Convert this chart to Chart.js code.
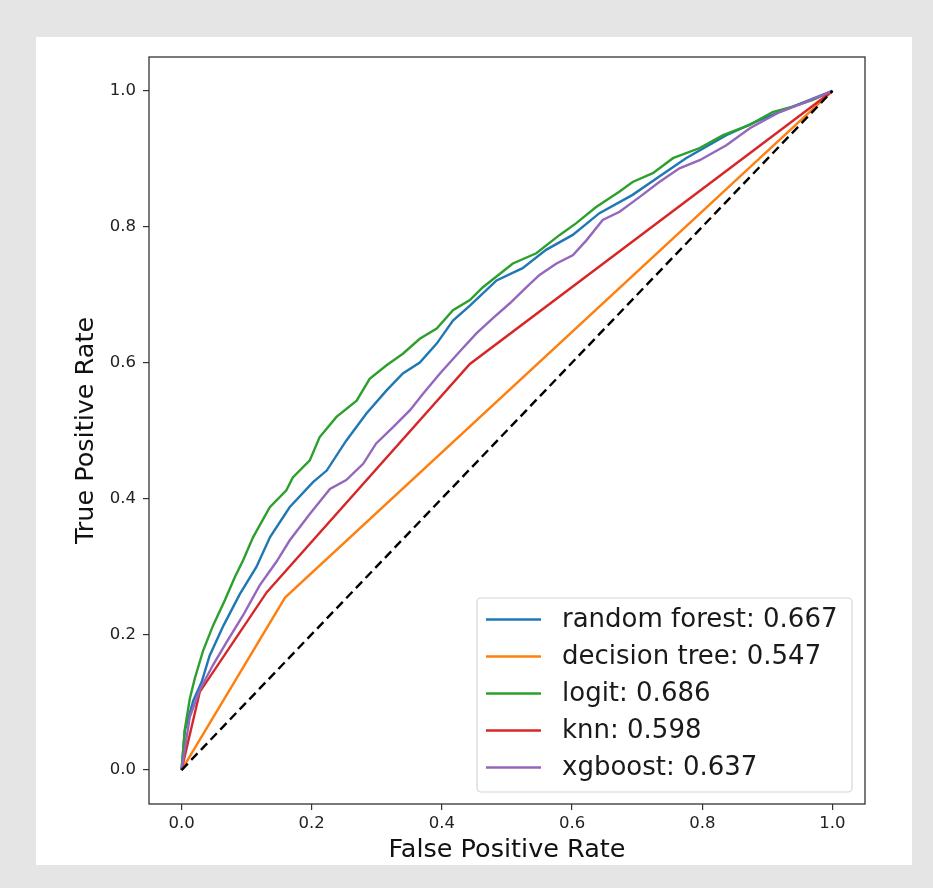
<!DOCTYPE html>
<html>
<head>
<meta charset="utf-8">
<script src="https://cdn.jsdelivr.net/npm/chart.js@4/dist/chart.umd.min.js"></script>
<style>
  html, body { margin: 0; padding: 0; background: #e5e5e5; }
  canvas { display: block; }
</style>
</head>
<body>
<canvas id="c" width="933" height="888"></canvas>
<script>
// ---- data ----
const rfFpr = [0, 0.005, 0.018, 0.031, 0.043, 0.064, 0.0895, 0.115, 0.136, 0.166, 0.202, 0.223, 0.253, 0.284, 0.315, 0.340, 0.366, 0.392, 0.417, 0.443, 0.484, 0.524, 0.560, 0.601, 0.642, 0.693, 0.734, 0.775, 0.837, 0.888, 0.939, 1];
const rfTpr = [0, 0.058, 0.102, 0.130, 0.168, 0.212, 0.259, 0.299, 0.343, 0.387, 0.424, 0.441, 0.485, 0.525, 0.559, 0.584, 0.600, 0.628, 0.662, 0.684, 0.721, 0.739, 0.766, 0.788, 0.820, 0.847, 0.874, 0.901, 0.935, 0.957, 0.977, 1];

const dtFpr = [0, 0.159, 1];
const dtTpr = [0, 0.254, 1];

const lgFpr = [0, 0.005, 0.0127, 0.0204, 0.0332, 0.0485, 0.0665, 0.0818, 0.0946, 0.110, 0.1356, 0.161, 0.171, 0.197, 0.212, 0.238, 0.269, 0.289, 0.315, 0.340, 0.366, 0.392, 0.417, 0.443, 0.463, 0.509, 0.545, 0.581, 0.606, 0.637, 0.673, 0.693, 0.724, 0.755, 0.796, 0.832, 0.873, 0.908, 0.939, 0.970, 1];
const lgTpr = [0, 0.060, 0.105, 0.135, 0.176, 0.213, 0.250, 0.284, 0.309, 0.343, 0.387, 0.412, 0.431, 0.456, 0.490, 0.520, 0.544, 0.576, 0.596, 0.613, 0.635, 0.650, 0.677, 0.692, 0.711, 0.746, 0.761, 0.788, 0.805, 0.829, 0.852, 0.866, 0.879, 0.901, 0.916, 0.935, 0.950, 0.969, 0.977, 0.987, 1];

const knnFpr = [0, 0.028, 0.131, 0.443, 1];
const knnTpr = [0, 0.115, 0.262, 0.598, 1];

const xgFpr = [0, 0.0127, 0.028, 0.0485, 0.069, 0.0946, 0.120, 0.146, 0.166, 0.197, 0.228, 0.253, 0.279, 0.299, 0.325, 0.351, 0.371, 0.397, 0.427, 0.453, 0.478, 0.504, 0.530, 0.550, 0.576, 0.601, 0.622, 0.647, 0.673, 0.704, 0.734, 0.765, 0.796, 0.837, 0.873, 0.919, 0.960, 1];
const xgTpr = [0, 0.078, 0.118, 0.155, 0.188, 0.228, 0.272, 0.307, 0.338, 0.377, 0.414, 0.427, 0.451, 0.481, 0.505, 0.530, 0.554, 0.584, 0.616, 0.643, 0.665, 0.687, 0.711, 0.729, 0.746, 0.758, 0.780, 0.810, 0.822, 0.844, 0.866, 0.886, 0.898, 0.920, 0.945, 0.969, 0.984, 1];

const chanceFpr = [0, 1];
const chanceTpr = [0, 1];

const seriesLabels = ['random forest: 0.667', 'decision tree: 0.547', 'logit: 0.686', 'knn: 0.598', 'xgboost: 0.637'];
const tickValues = [0, 0.2, 0.4, 0.6, 0.8, 1.0];
const xTitle = 'False Positive Rate';
const yTitle = 'True Positive Rate';

// ---- build ----
const pts = (xs, ys) => xs.map((x, i) => ({ x: x, y: ys[i] }));
const colors = ['#1f77b4', '#ff7f0e', '#2ca02c', '#d62728', '#9467bd'];
const series = [[rfFpr, rfTpr], [dtFpr, dtTpr], [lgFpr, lgTpr], [knnFpr, knnTpr], [xgFpr, xgTpr]];
const orders = [5, 4, 3, 2, 1];

const datasets = series.map((s, i) => ({
  label: seriesLabels[i],
  data: pts(s[0], s[1]),
  borderColor: colors[i],
  backgroundColor: colors[i],
  borderWidth: 2.4,
  showLine: true,
  pointRadius: 0,
  tension: 0,
  order: orders[i]
}));
datasets.push({
  label: '',
  data: pts(chanceFpr, chanceTpr),
  borderColor: '#000000',
  borderWidth: 2.4,
  borderDash: [9, 5],
  showLine: true,
  pointRadius: 0,
  order: 0
});

const FONT = 'DejaVu Sans';

const frame = {
  id: 'frame',
  beforeDraw(chart) {
    const ctx = chart.ctx;
    ctx.save();
    ctx.fillStyle = '#e5e5e5';
    ctx.fillRect(0, 0, chart.width, chart.height);
    ctx.fillStyle = '#ffffff';
    ctx.fillRect(36, 37, 876, 828);
    ctx.restore();
  },
  afterDraw(chart) {
    const ctx = chart.ctx;
    const a = chart.chartArea;
    ctx.save();
    ctx.strokeStyle = '#333333';
    ctx.lineWidth = 1.3;
    ctx.strokeRect(a.left, a.top, a.right - a.left, a.bottom - a.top);

    // legend (inside, lower right)
    const bx = 477, by = 598, bw = 375, bh = 194, r = 4;
    ctx.globalAlpha = 0.8;
    ctx.fillStyle = '#ffffff';
    ctx.beginPath();
    ctx.roundRect(bx, by, bw, bh, r);
    ctx.fill();
    ctx.globalAlpha = 1;
    ctx.strokeStyle = '#d6d6d6';
    ctx.lineWidth = 1.2;
    ctx.stroke();
    ctx.font = '26px "' + FONT + '"';
    ctx.textBaseline = 'middle';
    ctx.textAlign = 'left';
    const rowY0 = 619.5, rowStep = 37;
    chart.data.datasets.forEach((ds, i) => {
      if (!ds.label) return;
      const y = rowY0 + i * rowStep;
      ctx.strokeStyle = ds.borderColor;
      ctx.lineWidth = 2.4;
      ctx.beginPath();
      ctx.moveTo(486, y);
      ctx.lineTo(541, y);
      ctx.stroke();
      ctx.fillStyle = '#1a1a1a';
      ctx.fillText(ds.label, 562, y + 1);
    });
    ctx.restore();
  }
};

const setTicks = (scale) => { scale.ticks = tickValues.map(v => ({ value: v })); };

new Chart(document.getElementById('c'), {
  type: 'scatter',
  data: { datasets: datasets },
  options: {
    responsive: false,
    animation: false,
    devicePixelRatio: 1,
    layout: { padding: { left: 36, top: 57, right: 68, bottom: 23 } },
    plugins: { legend: { display: false }, tooltip: { enabled: false } },
    scales: {
      x: {
        type: 'linear',
        min: -0.05, max: 1.05,
        afterBuildTicks: setTicks,
        afterFit: (s) => { s.height = 888 - 23 - 804; },
        grid: { drawOnChartArea: false, drawTicks: true, tickLength: 6, color: '#333333', lineWidth: 1.2 },
        border: { display: false },
        ticks: {
          padding: 4,
          color: '#222222',
          font: { family: FONT, size: 16.5 },
          maxRotation: 0,
          callback: (v) => Number(v).toFixed(1)
        },
        title: { display: true, text: xTitle, color: '#111111', font: { family: FONT, size: 25.5 }, padding: { top: 0, bottom: -1 } }
      },
      y: {
        type: 'linear',
        min: -0.05, max: 1.05,
        afterBuildTicks: setTicks,
        afterFit: (s) => { s.width = 149 - 36; },
        grid: { drawOnChartArea: false, drawTicks: true, tickLength: 6, color: '#333333', lineWidth: 1.2 },
        border: { display: false },
        ticks: {
          padding: 7,
          color: '#222222',
          font: { family: FONT, size: 16.5 },
          callback: (v) => Number(v).toFixed(1)
        },
        title: { display: true, text: yTitle, color: '#111111', font: { family: FONT, size: 25.5 }, padding: { top: 35, bottom: 0 } }
      }
    }
  },
  plugins: [frame]
});
</script>
</body>
</html>
